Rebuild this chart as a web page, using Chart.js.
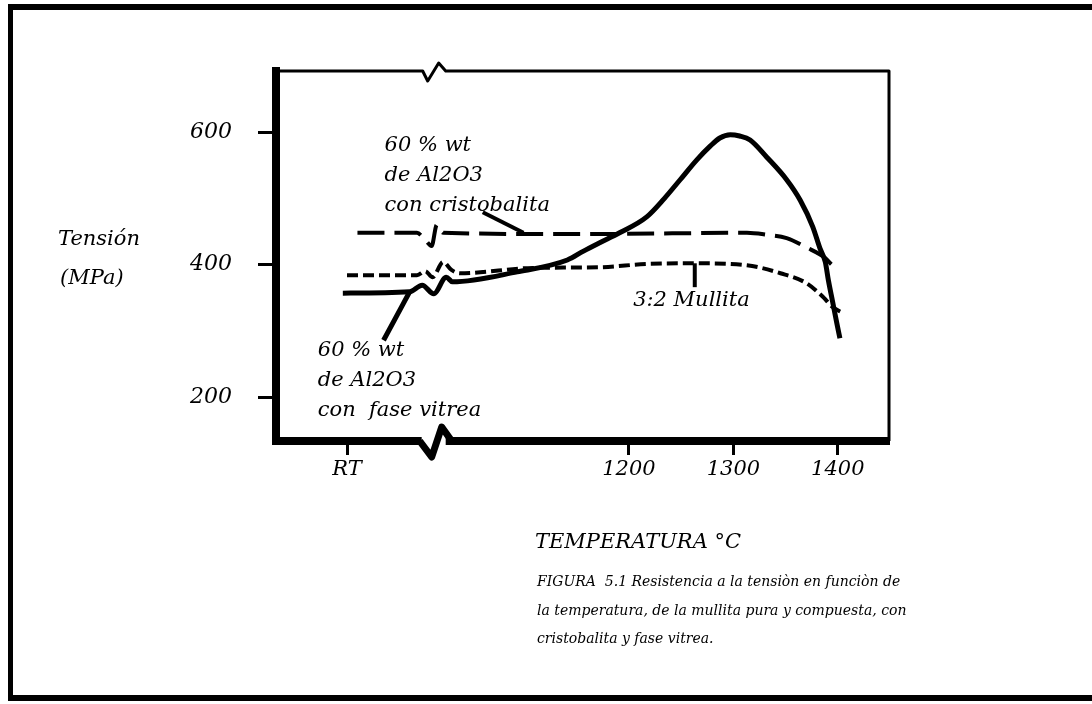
<!DOCTYPE html>
<html>
<head>
<meta charset="utf-8">
<script src="https://cdn.jsdelivr.net/npm/chart.js@4.4.1/dist/chart.umd.min.js"></script>
<style>
  html, body { margin: 0; padding: 0; background: #fff; }
  #wrap { width: 1092px; height: 704px; }
</style>
</head>
<body>
<div id="wrap"><canvas id="chart" width="1092" height="704"></canvas></div>
<script>
'use strict';

// Axis ticks. Left of the break the temperature axis is nominal (RT).
const xTickValues = [930, 1200, 1300, 1400];
const xTickLabels = ['RT', '1200', '1300', '1400'];
const yTickValues = [200, 400, 600];
const BREAK_AT = 1013;

// 60 % wt Al2O3 con fase vitrea (solid)
const vitreaT   = [926, 990, 1002, 1013, 1025, 1031, 1093, 1141, 1156, 1172, 1191, 1217, 1234, 1249, 1265, 1278, 1287, 1297, 1306, 1316, 1332, 1351, 1364, 1376, 1383, 1388, 1391, 1395, 1399, 1402];
const vitreaMPa = [357, 359, 369, 356, 381, 374, 389, 407, 420, 433, 448, 472, 500, 528, 558, 579, 591, 596, 594, 588, 562, 528, 497, 457, 424, 404, 376, 344, 312, 289];

// 3:2 Mullita (dotted)
const mullitaT   = [930, 997, 1005, 1012, 1022, 1030, 1038, 1108, 1172, 1217, 1265, 1313, 1345, 1370, 1386, 1395, 1405];
const mullitaMPa = [384, 384, 390, 381, 404, 392, 387, 395, 396, 401, 402, 399, 387, 372, 351, 336, 327];

// 60 % wt Al2O3 con cristobalita (dashed)
const cristoT   = [940, 997, 1005, 1011, 1016, 1022, 1153, 1313, 1332, 1351, 1370, 1388, 1395, 1402];
const cristoMPa = [448, 448, 437, 428, 460, 448, 446, 448, 445, 440, 426, 410, 399, 395];

// leader lines from the labels to the curves
const leaderCristoT = [1060, 1099],  leaderCristoMPa = [479, 448];
const leaderVitreaT = [965, 990],    leaderVitreaMPa = [286, 359];
const leaderMullitaT = [1263, 1263], leaderMullitaMPa = [402, 366];

// curve labels, anchored in axis units
const curveLabels = [
    { t: 966, mpa: 571, lines: ['60 % wt', 'de Al2O3', 'con cristobalita'] },
    { t: 902, mpa: 262, lines: ['60 % wt', 'de Al2O3', 'con  fase vitrea'] },
    { t: 1204, mpa: 337, lines: ['3:2 Mullita'] },
];

const caption = [
    'FIGURA  5.1 Resistencia a la tensiòn en funciòn de',
    'la temperatura, de la mullita pura y compuesta, con',
    'cristobalita y fase vitrea.',
];

const FONT = "'DejaVu Serif', 'Liberation Serif', serif";
const pts = (xs, ys) => xs.map((x, i) => ({ x, y: ys[i] }));

function curve(data, dash, width) {
    return {
        data, borderColor: '#000', borderWidth: width, borderDash: dash,
        pointRadius: 0, fill: false, cubicInterpolationMode: 'monotone',
        borderCapStyle: 'butt', borderJoinStyle: 'round',
    };
}

const paperPlugin = {
    id: 'paper',
    beforeDraw(chart) {
        const c = chart.ctx;
        c.save();
        c.fillStyle = '#fff';
        c.fillRect(0, 0, chart.width, chart.height);
        // scanned page frame
        c.fillStyle = '#000';
        c.fillRect(8, 4, chart.width - 8, 6);
        c.fillRect(8, 4, 5, 697);
        c.fillRect(8, 695, chart.width - 8, 6);
        c.restore();
    },
    afterDraw(chart) {
        const c = chart.ctx;
        const a = chart.chartArea;
        const xs = chart.scales.x, ys = chart.scales.y;
        const bx = xs.getPixelForValue(BREAK_AT);
        c.save();
        c.strokeStyle = '#000';
        c.fillStyle = '#000';
        c.lineJoin = 'round';

        // thin top and right box lines, with the break on top
        c.lineWidth = 3;
        c.beginPath();
        c.moveTo(a.left, a.top);
        c.lineTo(bx - 11, a.top);
        c.lineTo(bx - 6, a.top + 10);
        c.lineTo(bx + 5, a.top - 8);
        c.lineTo(bx + 12, a.top);
        c.lineTo(a.right, a.top);
        c.lineTo(a.right, a.bottom);
        c.stroke();

        // break on the bottom axis
        c.fillStyle = '#fff';
        c.fillRect(bx - 12, a.bottom - 4, 24, 8);
        c.lineWidth = 7;
        c.beginPath();
        c.moveTo(bx - 14, a.bottom);
        c.lineTo(bx - 2, a.bottom + 16);
        c.lineTo(bx + 8, a.bottom - 14);
        c.lineTo(bx + 18, a.bottom);
        c.stroke();

        c.fillStyle = '#000';
        c.textBaseline = 'alphabetic';
        c.textAlign = 'left';
        c.font = 'italic 21px ' + FONT;
        curveLabels.forEach(l => {
            const x = xs.getPixelForValue(l.t);
            const y = ys.getPixelForValue(l.mpa);
            l.lines.forEach((s, i) => c.fillText(s, x, y + i * 30));
        });

        // axis titles
        c.fillText('Tensión', 58, 245);
        c.fillText('(MPa)', 60, 284);
        c.font = 'italic 21px ' + FONT;
        c.fillText('TEMPERATURA °C', 535, 548);

        c.font = 'italic 14px ' + FONT;
        caption.forEach((s, i) => c.fillText(s, 537, 586 + i * 28.5));
        c.restore();
    }
};

const ctx = document.getElementById('chart');
new Chart(ctx, {
    type: 'line',
    data: {
        datasets: [
            curve(pts(cristoT, cristoMPa), [27, 10], 4),
            curve(pts(mullitaT, mullitaMPa), [11, 5], 4),
            curve(pts(vitreaT, vitreaMPa), [], 5),
            curve(pts(leaderCristoT, leaderCristoMPa), [], 4),
            curve(pts(leaderVitreaT, leaderVitreaMPa), [], 5),
            curve(pts(leaderMullitaT, leaderMullitaMPa), [], 4),
        ],
    },
    options: {
        responsive: false, animation: false, devicePixelRatio: 1,
        layout: { padding: { top: 71, right: 203, left: 0, bottom: 0 } },
        plugins: { legend: { display: false }, tooltip: { enabled: false }, title: { display: false } },
        scales: {
            x: {
                type: 'linear', min: 862, max: 1449,
                afterBuildTicks: s => { s.ticks = xTickValues.map(v => ({ value: v })); },
                afterFit: s => { s.height = 263; },
                ticks: {
                    color: '#000', padding: 2, maxRotation: 0, autoSkip: false,
                    font: { family: FONT, style: 'italic', size: 21 },
                    callback: v => xTickLabels[xTickValues.indexOf(v)],
                },
                grid: { drawOnChartArea: false, color: '#000', tickLength: 14, tickWidth: 3 },
                border: { display: true, color: '#000', width: 8 },
            },
            y: {
                type: 'linear', min: 134, max: 692,
                afterBuildTicks: s => { s.ticks = yTickValues.map(v => ({ value: v })); },
                afterFit: s => { s.width = 276; },
                ticks: {
                    color: '#000', padding: 26,
                    font: { family: FONT, style: 'italic', size: 22 },
                },
                grid: { drawOnChartArea: false, color: '#000', tickLength: 18, tickWidth: 3 },
                border: { display: true, color: '#000', width: 8 },
            },
        },
    },
    plugins: [paperPlugin],
});
</script>
</body>
</html>
